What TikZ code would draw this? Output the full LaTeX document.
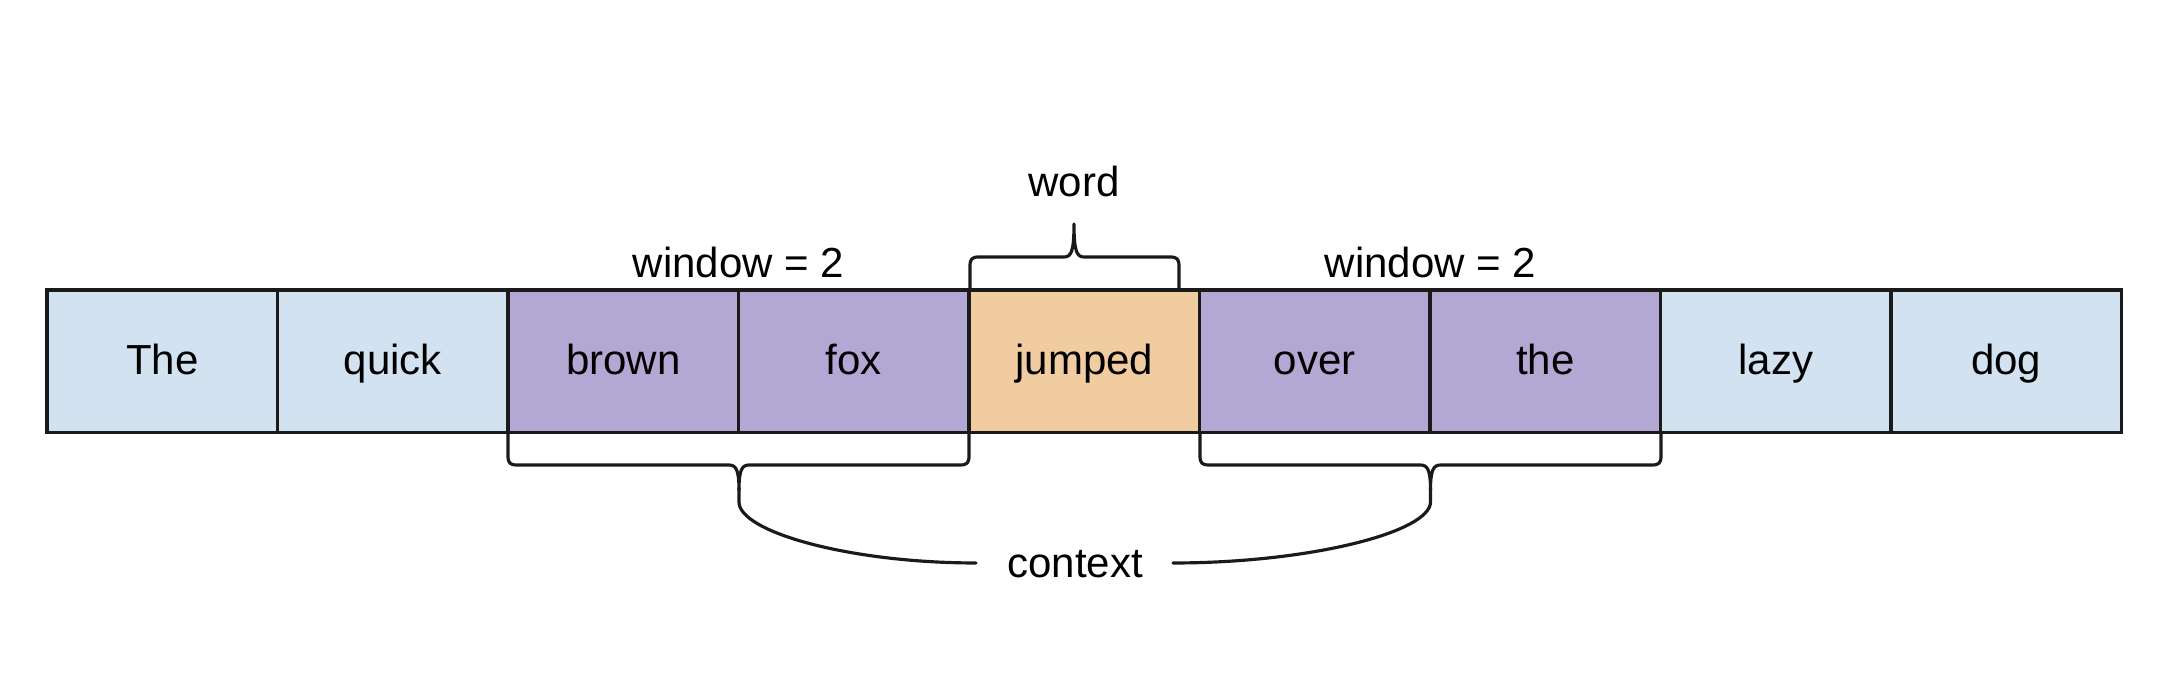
\documentclass[tikz,border=0pt]{standalone}
\usepackage{fontspec}
\setmainfont{Liberation Sans}
\definecolor{ctxblue}{HTML}{D2E2F1}
\definecolor{ctxpurple}{HTML}{B3A8D4}
\definecolor{ctxorange}{HTML}{F2CCA1}
\definecolor{lineblack}{HTML}{1A1A1A}
\tikzset{
  wbox/.style={draw=lineblack, line width=0.9pt, minimum width=2.305cm, minimum height=1.425cm,
    inner sep=0pt, outer sep=0pt, text height=0.78em, text depth=0pt},
  outside/.style={wbox, fill=ctxblue},
  inwin/.style={wbox, fill=ctxpurple},
  center word/.style={wbox, fill=ctxorange},
  lbl/.style={anchor=base, inner sep=0pt},
  bracepath/.style={draw=lineblack, line width=0.9pt, line join=round, line cap=round}
}
\begin{document}
\begin{tikzpicture}[x=0.01cm, y=-0.01cm, font=\fontsize{11.95}{14}\selectfont]
\useasboundingbox (0,0) rectangle (2162,698);
% word boxes
\node[outside] (w1) at (162.25,361.25) {The};
\node[outside] (w2) at (392.75,361.25) {quick};
\node[inwin] (w3) at (623.25,361.25) {brown};
\node[inwin] (w4) at (853.75,361.25) {fox};
\node[center word] (w5) at (1084.25,361.25) {jumped};
\node[inwin] (w6) at (1314.75,361.25) {over};
\node[inwin] (w7) at (1545.25,361.25) {the};
\node[outside] (w8) at (1775.75,361.25) {lazy};
\node[outside] (w9) at (2006.25,361.25) {dog};
% labels
\node[lbl] (winL) at (738.5,277.5) {window = 2};
\node[lbl] (winR) at (1430.5,277.5) {window = 2};
\node[lbl] (word) at (1074,196.5) {word};
\node[lbl] (ctx) at (1075,578) {context};
% word brace
\draw[bracepath] (970,290) -- (970,266) .. controls (970,259) and (972,257) .. (979,257)
  -- (1064,257) .. controls (1071,257) and (1074,252) .. (1074,224)
  .. controls (1074,252) and (1077,257) .. (1084,257)
  -- (1170,257) .. controls (1177,257) and (1179,259) .. (1179,266) -- (1179,290);
% left lower bracket
\draw[bracepath] (508,433) -- (508,456) .. controls (508,463) and (510,465) .. (517,465)
  -- (729,465) .. controls (736,465) and (739,470) .. (739,490)
  .. controls (739,470) and (742,465) .. (749,465)
  -- (960,465) .. controls (967,465) and (969,463) .. (969,456) -- (969,433);
% right lower bracket
\draw[bracepath] (1200,433) -- (1200,456) .. controls (1200,463) and (1202,465) .. (1209,465)
  -- (1420.5,465) .. controls (1427.5,465) and (1430.5,470) .. (1430.5,490)
  .. controls (1430.5,470) and (1433.5,465) .. (1440.5,465)
  -- (1652,465) .. controls (1659,465) and (1661,463) .. (1661,456) -- (1661,433);
% context curves
\draw[bracepath] (739,488) -- (739,502) .. controls (739,532) and (850,563) .. (976,563);
\draw[bracepath] (1430.5,488) -- (1430.5,502) .. controls (1430.5,532) and (1310,563) .. (1173,563);
\end{tikzpicture}
\end{document}
